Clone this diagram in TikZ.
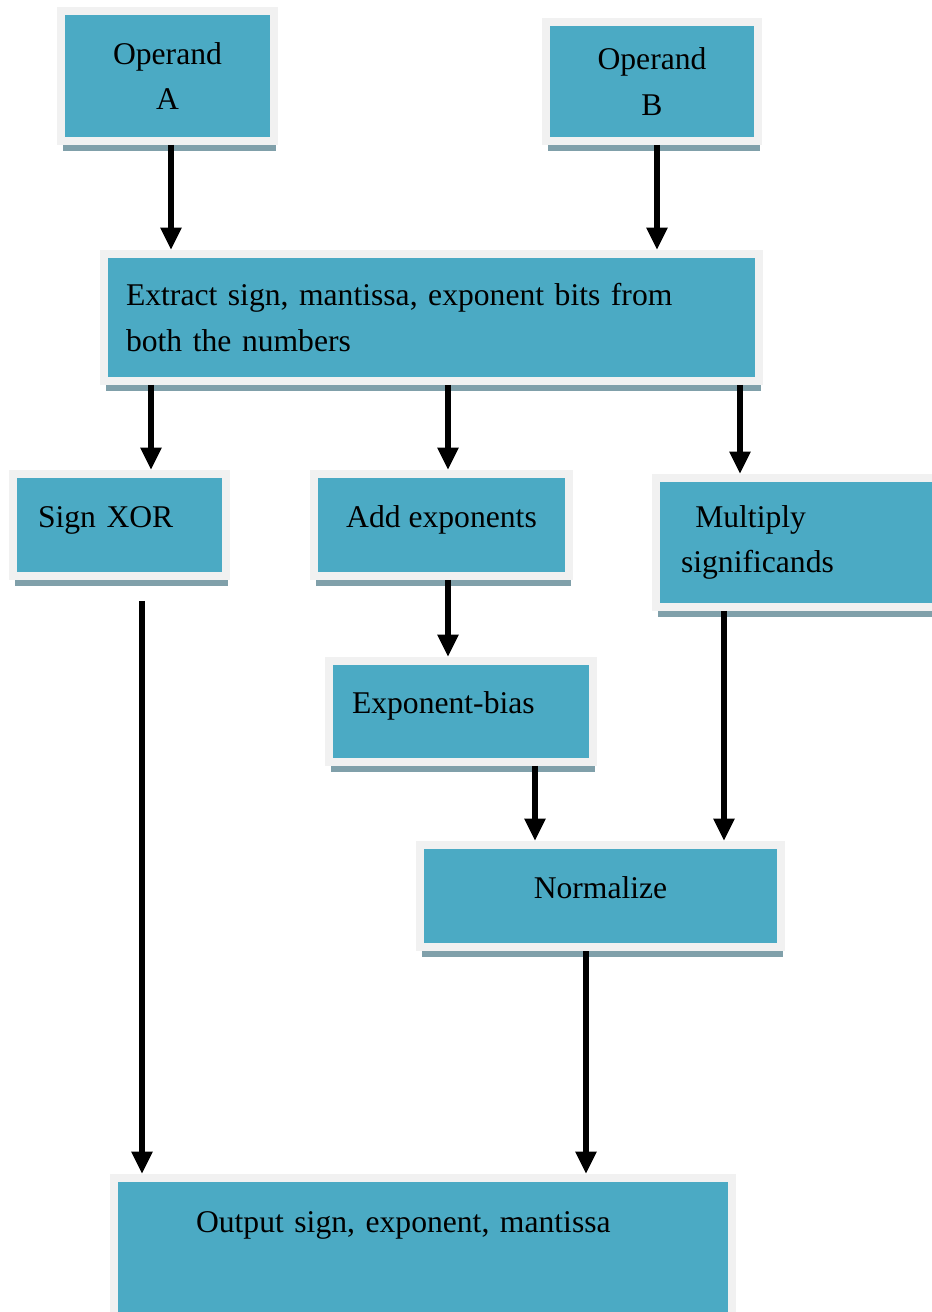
\documentclass[tikz,border=0pt]{standalone}
\usepackage{fontspec}
\setmainfont{Liberation Serif}
\usepackage{tikz}
\usetikzlibrary{arrows.meta, shadows}
\definecolor{mydark}{RGB}{0,0,0}
\definecolor{boxteal}{RGB}{75,170,196}
\definecolor{boxframe}{RGB}{241,241,241}
\definecolor{boxshade}{RGB}{128,160,170}
\tikzset{
  block/.style={rectangle, fill=boxteal, draw=boxframe, line width=0.16cm,
    inner sep=0pt, font=\fontsize{18}{26}\selectfont,
    drop shadow={shadow xshift=0.04cm, shadow yshift=-0.2cm,
      fill=boxshade, opacity=1}},
  oneline/.style={text height=0.44cm, text depth=0.36cm},
  arrow/.style={-{Triangle[width=0.4cm,length=0.45cm]}, line width=0.11cm, color=mydark}
}

\begin{document}
\begin{tikzpicture}[x=0.02cm, y=-0.02cm]
  \useasboundingbox (0,0) rectangle (931,1312);
  % inputs
  \node[block, minimum width=4.26cm, minimum height=2.6cm, align=center] (opA) at (167.5,76) {Operand\\A};
  \node[block, minimum width=4.24cm, minimum height=2.38cm, align=center] (opB) at (652,81.5) {Operand\\B};
  % unpack
  \node[block, minimum width=13.1cm, minimum height=2.54cm, text width=12.22cm, align=left] (extract) at (431.5,317.5)
    {Extract sign, mantissa, exponent bits from\\both the numbers};
  % three branches
  \node[block, oneline, minimum width=4.26cm, minimum height=2.04cm, text width=3.26cm, align=left] (sxor) at (119.5,525) {Sign XOR};
  \node[block, oneline, minimum width=5.1cm, minimum height=2.04cm, align=center] (addexp) at (441.5,525) {Add exponents};
  \node[block, minimum width=6.08cm, minimum height=2.58cm, text width=5.08cm, align=left] (mult) at (808,542.5)
    {\hspace*{0.45em}Multiply\\significands};
  \node[block, oneline, minimum width=5.28cm, minimum height=2.02cm, text width=4.36cm, align=left] (expbias) at (461,711.5) {Exponent-bias};
  \node[block, oneline, minimum width=7.22cm, minimum height=2.04cm, align=center] (norm) at (600.5,896) {Normalize};
  % result
  \node[block, anchor=north, minimum width=12.36cm, text width=9.08cm, align=left,
    text height=1.08cm, text depth=2.04cm] (out) at (423,1174) {Output sign, exponent, mantissa};

  % connectors
  \draw[arrow] ([xshift=0.07cm]opA.south) -- ([xshift=0.07cm]opA.south |- extract.north);
  \draw[arrow] ([xshift=0.1cm]opB.south) -- ([xshift=0.1cm]opB.south |- extract.north);
  \draw[arrow] ([xshift=0.63cm]sxor.north |- extract.south) -- ([xshift=0.63cm]sxor.north);
  \draw[arrow] ([xshift=0.13cm]addexp.north |- extract.south) -- ([xshift=0.13cm]addexp.north);
  \draw[arrow] ([xshift=1.76cm]mult.north west |- extract.south) -- ([xshift=1.76cm]mult.north west);
  \draw[arrow, shorten <=0.42cm] ([xshift=0.45cm]sxor.south) -- ([xshift=0.45cm]sxor.south |- out.north);
  \draw[arrow] ([xshift=0.13cm]addexp.south) -- ([xshift=0.13cm]addexp.south |- expbias.north);
  \draw[arrow] ([xshift=1.48cm]expbias.south) -- ([xshift=1.48cm]expbias.south |- norm.north);
  \draw[arrow] ([xshift=1.44cm]mult.south west) -- ([xshift=1.44cm]mult.south west |- norm.north);
  \draw[arrow] ([xshift=-0.29cm]norm.south) -- ([xshift=-0.29cm]norm.south |- out.north);
\end{tikzpicture}
\end{document}
